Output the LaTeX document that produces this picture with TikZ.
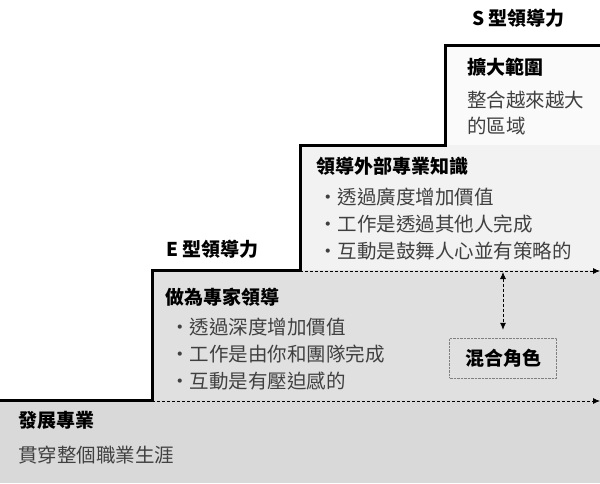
\documentclass[tikz,border=0pt]{standalone}
\usepackage{fontspec}
\setmainfont{Noto Sans CJK TC}
\usetikzlibrary{arrows.meta}
\begin{document}
\begin{tikzpicture}[x=1pt,y=-1pt,
  txt/.style={anchor=west,inner sep=0pt,font=\fontsize{19.5}{22}\selectfont,text=black!75},
  hd/.style={anchor=west,inner sep=0pt,font=\fontsize{19}{22}\selectfont\bfseries},
  stair/.style={line width=3pt,line join=miter},
  dasharrow/.style={densely dashed,line width=0.8pt,-{Latex[length=7pt,width=6pt]}}]
\useasboundingbox (0,0) rectangle (600,483);
\fill[black!15] (0,400) rectangle (600,483);
\fill[black!12] (152,270) rectangle (600,400);
\fill[black!5] (300,145) rectangle (600,270);
\fill[black!2] (445,45) rectangle (600,145);
\draw[stair] (0,400) -- (152,400) -- (152,270) -- (300,270) -- (300,145) -- (445,145) -- (445,45) -- (600,45);
\coordinate (d1s) at (300,271); \coordinate (d1e) at (600,271);
\coordinate (d2s) at (152,401); \coordinate (d2e) at (600,401);
\draw[dasharrow] (d1s) -- (d1e);
\draw[dasharrow] (d2s) -- (d2e);
\node[draw=black!50,densely dotted,minimum width=107pt,minimum height=40pt,font=\fontsize{19}{22}\selectfont\bfseries] (mix) at (503,358) {混合角色};
\coordinate (vt) at (503,272);
\draw[densely dashed,line width=0.8pt,{Latex[length=7pt,width=6pt]}-{Latex[length=7pt,width=6pt]}] (vt) -- ([yshift=8pt]mix.north);
\node[hd] (s) at (472,18) {S 型領導力};
\node[hd] (e) at (166,249) {E 型領導力};
\node[hd] (b1) at (18,420) {發展專業};
\node[txt] (b2) at (18,455) {貫穿整個職業生涯};
\node[hd] (m0) at (165,297) {做為專家領導};
\node[txt] (m1) at (170,327) {・透過深度增加價值};
\node[txt] (m2) at (170,354) {・工作是由你和團隊完成};
\node[txt] (m3) at (170,381) {・互動是有壓迫感的};
\node[hd] (u0) at (316,166) {領導外部專業知識};
\node[txt] (u1) at (318,197) {・透過廣度增加價值};
\node[txt] (u2) at (318,224) {・工作是透過其他人完成};
\node[txt] (u3) at (318,251) {・互動是鼓舞人心並有策略的};
\node[hd] (t0) at (467,67) {擴大範圍};
\node[txt] (t1) at (467,100) {整合越來越大};
\node[txt] (t2) at (467,126) {的區域};
\end{tikzpicture}
\end{document}
